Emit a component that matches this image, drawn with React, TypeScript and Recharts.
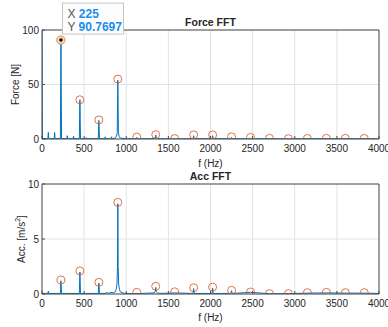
import React from 'react';
import { ComposedChart, Line, Scatter, XAxis, YAxis, CartesianGrid, ReferenceDot, ReferenceLine } from 'recharts';

const FREQ_TICKS = [0, 500, 1000, 1500, 2000, 2500, 3000, 3500, 4000];
const FORCE_TICKS = [0, 50, 100];
const ACC_TICKS = [0, 5, 10];

// harmonic markers (orange circles)
const HARM_F = [225, 450, 675, 900, 1125, 1350, 1575, 1800, 2025, 2250, 2475, 2700, 2925, 3150, 3375, 3600, 3825];
const FORCE_HARM = [90.7697, 36, 17.5, 55, 1.8, 4, 0.4, 3.8, 3.7, 2, 1.4, 0.6, 0.3, 0.5, 0.6, 0.6, 0.5];
const ACC_HARM = [1.27, 2.1, 1.06, 8.33, 0.15, 0.7, 0.2, 0.57, 0.63, 0.33, 0.18, 0.03, 0.03, 0.12, 0.15, 0.12, 0.12];

// spectrum lines
const FORCE_SPEC_F = [0, 5, 12, 70, 75, 80, 145, 150, 155, 218, 225, 232, 295, 300, 305, 370, 375, 380, 443, 450, 457,
  520, 525, 530, 600, 605, 610, 668, 675, 682, 745, 750, 755, 820, 825, 830, 870, 885, 893, 900, 907, 915, 930, 1000,
  1118, 1125, 1132, 1300, 1343, 1350, 1357, 1372, 1568, 1575, 1582, 1793, 1800, 1807, 2018, 2025, 2032, 2243, 2250, 2257,
  2468, 2475, 2482, 2700, 2925, 3150, 3375, 3600, 3825, 4000];
const FORCE_SPEC_V = [110, 1, 0.4, 0.4, 6, 0.4, 0.4, 6, 0.4, 0.5, 90.7697, 0.5, 0.3, 3, 0.3, 0.3, 2.5, 0.3, 0.4, 36, 0.4,
  0.3, 1.2, 0.3, 0.3, 1, 0.3, 0.4, 17, 0.4, 0.3, 2, 0.3, 0.3, 2, 0.3, 0.8, 2.5, 6, 54, 6, 2.5, 0.8, 0.3,
  0.3, 1.5, 0.3, 0.3, 0.8, 3.5, 0.8, 0.3, 0.2, 0.5, 0.2, 0.3, 3, 0.3, 0.3, 3, 0.3, 0.3, 1.5, 0.3,
  0.2, 1, 0.2, 0.3, 0.2, 0.3, 0.3, 0.3, 0.3, 0.2];

const ACC_SPEC_F = [0, 10, 70, 75, 80, 218, 225, 232, 300, 305, 310, 443, 450, 457, 668, 675, 682, 750, 770, 780, 830, 850,
  870, 880, 890, 896, 900, 904, 910, 920, 930, 950, 1000, 1118, 1125, 1132, 1330, 1343, 1350, 1357, 1370, 1400, 1575,
  1793, 1800, 1807, 2018, 2025, 2032, 2243, 2250, 2257, 2475, 2700, 2925, 3150, 3375, 3600, 3825, 4000];
const ACC_SPEC_V = [0.1, 0.05, 0.05, 0.25, 0.05, 0.05, 1.2, 0.05, 0.05, 0.1, 0.05, 0.05, 2.0, 0.05, 0.05, 1.0, 0.05, 0.05, 0.15, 0.05, 0.15, 0.1,
  0.2, 0.4, 0.9, 2.5, 8.2, 2.5, 0.9, 0.4, 0.2, 0.1, 0.05, 0.03, 0.1, 0.03, 0.1, 0.2, 0.6, 0.2, 0.1, 0.05, 0.1,
  0.05, 0.5, 0.05, 0.05, 0.55, 0.05, 0.05, 0.3, 0.05, 0.15, 0.03, 0.03, 0.08, 0.1, 0.08, 0.08, 0.05];

const TIP_X = 225;
const TIP_Y = 90.7697;

const AXIS = '#4d4d4d';
const GRID = '#e2e2e2';
const BLUE = '#0072BD';
const ORANGE = '#D95319';
const TEXT = '#262626';
const FONT = '"Liberation Sans", Arial, Helvetica, sans-serif';

const zip = (f: number[], v: number[]) => f.map((x, i) => ({ f: x, v: v[i] }));

const titleLabel = (text: string) => (props: any) => {
  const vb = props.viewBox;
  return (
    <text x={vb.x + vb.width / 2} y={vb.y - 8} textAnchor="middle" dominantBaseline="central"
      fontWeight="bold" fontSize={10.5} fill={TEXT} fontFamily={FONT}>{text}</text>
  );
};

const xLabel = (offset: number) => (props: any) => {
  const vb = props.viewBox;
  return (
    <text x={vb.x + vb.width / 2} y={vb.y + offset} textAnchor="middle" dominantBaseline="central"
      fontSize={10} fill={TEXT} fontFamily={FONT}>f (Hz)</text>
  );
};

const yLabel = (x: number, content: React.ReactNode) => (props: any) => {
  const vb = props.viewBox;
  const cy = vb.y + vb.height / 2;
  return (
    <text x={x} y={cy} transform={`rotate(-90 ${x} ${cy})`} textAnchor="middle" dominantBaseline="central"
      fontSize={10} fill={TEXT} fontFamily={FONT}>{content}</text>
  );
};

const Ring = (props: any) => (
  <circle cx={props.cx} cy={props.cy} r={4} fill="none" stroke={ORANGE} strokeOpacity={0.8} strokeWidth={1} />
);

const DataTip = (props: any) => {
  const { cx, cy } = props;
  return (
    <g fontFamily={FONT} fontSize={12}>
      <rect x={cx + 1.5} y={cy - 37} width={61} height={31} fill="#fdfdfd" stroke="#c4c4c4" strokeWidth={1} />
      <text x={cx + 6.5} y={cy - 26} dominantBaseline="central" fill="#555">
        X <tspan fill="#1a8cf0" fontWeight="bold">{TIP_X}</tspan>
      </text>
      <text x={cx + 6.5} y={cy - 13.5} dominantBaseline="central" fill="#555">
        Y <tspan fill="#1a8cf0" fontWeight="bold">{TIP_Y}</tspan>
      </text>
      <circle cx={cx} cy={cy} r={4} fill="#f4dfb8" stroke="#e8a070" strokeWidth={1} />
      <circle cx={cx} cy={cy} r={1.8} fill="#000" />
    </g>
  );
};

type PanelProps = {
  title: string;
  ylab: React.ReactNode;
  ylabX: number;
  spec: { f: number; v: number }[];
  harm: { f: number; v: number }[];
  yTicks: number[];
  height: number;
  top: number;
  xAxisHeight: number;
  xLabelOffset: number;
  tip?: boolean;
};

function Panel(p: PanelProps) {
  const yMax = p.yTicks[p.yTicks.length - 1];
  return (
    <ComposedChart width={388} height={p.height} data={p.spec}
      margin={{ top: p.top, right: 9, bottom: 0, left: 0 }}>
      <CartesianGrid stroke={GRID} strokeWidth={1} />
      <XAxis dataKey="f" type="number" domain={[0, 4000]} ticks={FREQ_TICKS} height={p.xAxisHeight}
        axisLine={{ stroke: AXIS }} tickLine={{ stroke: AXIS }} tickSize={-3} tickMargin={9}
        tick={{ fontSize: 10, fill: TEXT, fontFamily: FONT }} interval={0} allowDataOverflow
        label={{ content: xLabel(p.xLabelOffset) }} />
      <YAxis dataKey="v" type="number" domain={[0, yMax]} ticks={p.yTicks} width={42} allowDataOverflow
        axisLine={{ stroke: AXIS }} tickLine={{ stroke: AXIS }} tickSize={-3} tickMargin={6} interval={0}
        tick={{ fontSize: 10, fill: TEXT, fontFamily: FONT }}
        label={{ content: yLabel(p.ylabX, p.ylab) }} />
      <Line dataKey="v" type="linear" stroke={BLUE} strokeWidth={1} dot={false} activeDot={false}
        isAnimationActive={false} />
      <Scatter data={p.harm} dataKey="v" shape={Ring} isAnimationActive={false} />
      <ReferenceLine y={yMax} stroke={AXIS} ifOverflow="visible" label={{ content: titleLabel(p.title) }} />
      <ReferenceLine x={4000} stroke={AXIS} ifOverflow="visible" />
      {p.tip && (
        <ReferenceDot x={TIP_X} y={TIP_Y} ifOverflow="visible" shape={DataTip} />
      )}
    </ComposedChart>
  );
}

export default function App() {
  const forceSpec = zip(FORCE_SPEC_F, FORCE_SPEC_V);
  const accSpec = zip(ACC_SPEC_F, ACC_SPEC_V);
  const forceHarm = zip(HARM_F, FORCE_HARM);
  const accHarm = zip(HARM_F, ACC_HARM);
  return (
    <div style={{ position: 'absolute', left: 0, top: 0, width: 388, height: 327, background: '#fff', fontFamily: FONT }}>
      <div style={{ position: 'absolute', left: 0, top: 0 }}>
        <Panel title="Force FFT" ylab="Force [N]" ylabX={15} spec={forceSpec} harm={forceHarm}
          yTicks={FORCE_TICKS} height={172} top={30} xAxisHeight={33} xLabelOffset={24} tip />
      </div>
      <div style={{ position: 'absolute', left: 0, top: 165 }}>
        <Panel title="Acc FFT"
          ylab={<>Acc. [m/s<tspan dy={-4} fontSize={7}>2</tspan><tspan dy={4}>]</tspan></>}
          ylabX={21} spec={accSpec} harm={accHarm}
          yTicks={ACC_TICKS} height={162} top={19} xAxisHeight={33} xLabelOffset={23} />
      </div>
    </div>
  );
}
